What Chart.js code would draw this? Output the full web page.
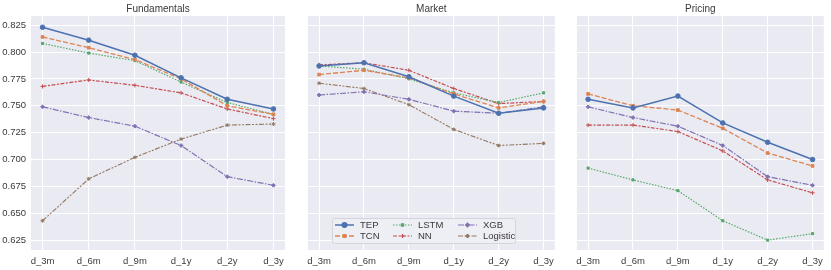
<!DOCTYPE html>
<html>
<head>
<meta charset="utf-8">
<script src="https://cdn.jsdelivr.net/npm/chart.js@4.4.1/dist/chart.umd.min.js"></script>
<style>
  html, body { margin: 0; padding: 0; background: #fff; }
  .panel { position: absolute; top: 0; height: 270px; }
</style>
</head>
<body>
<div class="panel" style="left:0px;width:290px"><canvas id="fundChart"></canvas></div>
<div class="panel" style="left:301px;width:259px"><canvas id="marketChart"></canvas></div>
<div class="panel" style="left:570px;width:259px"><canvas id="pricingChart"></canvas></div>
<script>
  // categories and ticks
  var categories = ['d_3m', 'd_6m', 'd_9m', 'd_1y', 'd_2y', 'd_3y'];
  var yTicks = [0.625, 0.650, 0.675, 0.700, 0.725, 0.750, 0.775, 0.800, 0.825];
  var models = ['TEP', 'TCN', 'LSTM', 'NN', 'XGB', 'Logistic'];

  // Fundamentals
  var fundTEP      = [0.823, 0.811, 0.797, 0.776, 0.756, 0.747];
  var fundTCN      = [0.814, 0.804, 0.793, 0.775, 0.750, 0.742];
  var fundLSTM     = [0.808, 0.799, 0.792, 0.772, 0.753, 0.742];
  var fundNN       = [0.768, 0.774, 0.769, 0.762, 0.747, 0.738];
  var fundXGB      = [0.749, 0.739, 0.731, 0.713, 0.684, 0.676];
  var fundLogistic = [0.643, 0.682, 0.702, 0.719, 0.732, 0.733];

  // Market
  var marketTEP      = [0.787, 0.790, 0.777, 0.759, 0.743, 0.748];
  var marketTCN      = [0.779, 0.783, 0.776, 0.761, 0.748, 0.754];
  var marketLSTM     = [0.787, 0.784, 0.775, 0.762, 0.753, 0.762];
  var marketNN       = [0.788, 0.790, 0.783, 0.766, 0.752, 0.754];
  var marketXGB      = [0.760, 0.763, 0.756, 0.745, 0.743, 0.749];
  var marketLogistic = [0.771, 0.766, 0.751, 0.728, 0.713, 0.715];

  // Pricing (no Logistic)
  var pricingTEP  = [0.756, 0.748, 0.759, 0.734, 0.716, 0.700];
  var pricingTCN  = [0.761, 0.750, 0.746, 0.729, 0.706, 0.694];
  var pricingLSTM = [0.692, 0.681, 0.671, 0.643, 0.625, 0.631];
  var pricingNN   = [0.732, 0.732, 0.726, 0.708, 0.681, 0.669];
  var pricingXGB  = [0.749, 0.739, 0.731, 0.713, 0.684, 0.676];

  // seaborn deep palette + styles per model
  var styles = {
    TEP:      { color: '#4C72B0', dash: [],                          point: 'circle',  r: 2.3, w: 1.5 },
    TCN:      { color: '#DD8452', dash: [5, 2],                      point: 'rect',    r: 1.9, w: 1.3 },
    LSTM:     { color: '#55A868', dash: [1.5, 1.5],                  point: 'rect',    r: 1.5, w: 1.2 },
    NN:       { color: '#C44E52', dash: [4, 1.5, 2, 1.5],            point: 'cross',   r: 2.1, w: 1.2 },
    XGB:      { color: '#8172B3', dash: [6, 1.5, 1.5, 1.5],          point: 'rectRot', r: 1.9, w: 1.2 },
    Logistic: { color: '#937860', dash: [5, 1.5, 2, 1.5, 2, 1.5],    point: 'star',    r: 1.9, w: 1.1 }
  };

  var FONT = "'Liberation Sans', Arial, sans-serif";
  var TEXT = '#3a3a3a';

  function buildDatasets(series) {
    return series.map(function(s) {
      var st = styles[s.name];
      return {
        label: s.name,
        data: s.values.map(function(v, i) { return { x: i, y: v }; }),
        borderColor: st.color,
        backgroundColor: st.color,
        borderWidth: st.w,
        borderDash: st.dash,
        pointStyle: st.point,
        pointRadius: st.r,
        pointBorderWidth: 1,
        pointBorderColor: st.color,
        pointBackgroundColor: st.color,
        tension: 0
      };
    });
  }

  // darkgrid background
  var bgPlugin = {
    id: 'bgPlugin',
    beforeDraw: function(chart) {
      var a = chart.chartArea, ctx = chart.ctx;
      ctx.save();
      ctx.fillStyle = '#EAEAF2';
      ctx.fillRect(a.left, a.top, a.right - a.left, a.bottom - a.top);
      ctx.restore();
    }
  };

  // title centred over the plot area
  var titlePlugin = {
    id: 'panelTitle',
    afterDraw: function(chart, args, opts) {
      var a = chart.chartArea, ctx = chart.ctx;
      ctx.save();
      ctx.font = '10px ' + FONT;
      ctx.fillStyle = TEXT;
      ctx.textAlign = 'center';
      ctx.textBaseline = 'middle';
      ctx.fillText(opts.text, (a.left + a.right) / 2, 9);
      ctx.restore();
    }
  };

  // 3 column legend box inside the Market panel
  var legendPlugin = {
    id: 'boxLegend',
    afterDraw: function(chart, args, opts) {
      if (!opts.show) return;
      var ctx = chart.ctx;
      var bx = 31, by = 218, bw = 183, bh = 25;
      ctx.save();
      ctx.fillStyle = 'rgba(238,238,245,0.9)';
      ctx.strokeStyle = '#D4D4DC';
      ctx.lineWidth = 1;
      ctx.beginPath();
      ctx.roundRect(bx + 0.5, by + 0.5, bw, bh, 2);
      ctx.fill();
      ctx.stroke();
      var colX = [34, 92, 157];
      var rowY = [225, 236];
      models.forEach(function(m, i) {
        var st = styles[m];
        var x0 = colX[Math.floor(i / 2)], y = rowY[i % 2];
        ctx.strokeStyle = st.color;
        ctx.lineWidth = st.w;
        ctx.setLineDash(st.dash);
        ctx.beginPath();
        ctx.moveTo(x0, y);
        ctx.lineTo(x0 + 19, y);
        ctx.stroke();
        ctx.setLineDash([]);
        ctx.fillStyle = st.color;
        Chart.helpers.drawPoint(ctx, { pointStyle: st.point, radius: st.r, borderWidth: 1, rotation: 0 }, x0 + 9.5, y);
        ctx.fillStyle = TEXT;
        ctx.font = '9.5px ' + FONT;
        ctx.textAlign = 'left';
        ctx.textBaseline = 'middle';
        ctx.fillText(m, x0 + 25, y);
      });
      ctx.restore();
    }
  };

  function makePanel(id, title, series, showY, showLegend) {
    var ctx = document.getElementById(id).getContext('2d');
    return new Chart(ctx, {
      type: 'line',
      data: { datasets: buildDatasets(series) },
      options: {
        responsive: true,
        maintainAspectRatio: false,
        animation: false,
        layout: { padding: { top: 16, right: 3, left: 0, bottom: 0 } },
        plugins: {
          legend: { display: false },
          tooltip: { enabled: false },
          panelTitle: { text: title },
          boxLegend: { show: showLegend }
        },
        scales: {
          x: {
            type: 'linear',
            min: -0.25,
            max: 5.25,
            afterBuildTicks: function(s) { s.ticks = categories.map(function(c, i) { return { value: i }; }); },
            afterFit: function(s) { s.height = 20; },
            grid: { color: '#FFFFFF', lineWidth: 1, drawTicks: false },
            border: { display: false },
            ticks: {
              padding: 6,
              color: TEXT,
              font: { family: FONT, size: 9.5 },
              maxRotation: 0,
              callback: function(v) { return categories[v]; }
            }
          },
          y: {
            min: 0.6158,
            max: 0.8335,
            afterBuildTicks: function(s) { s.ticks = yTicks.map(function(v) { return { value: v }; }); },
            afterFit: function(s) { s.width = showY ? 31 : 0; },
            grid: { color: '#FFFFFF', lineWidth: 1, drawTicks: false },
            border: { display: false },
            ticks: {
              display: showY,
              padding: 5,
              color: TEXT,
              font: { family: FONT, size: 9.5 },
              callback: function(v) { return v.toFixed(3); }
            }
          }
        }
      },
      plugins: [bgPlugin, titlePlugin, legendPlugin]
    });
  }

  makePanel('fundChart', 'Fundamentals', [
    { name: 'TEP', values: fundTEP },
    { name: 'TCN', values: fundTCN },
    { name: 'LSTM', values: fundLSTM },
    { name: 'NN', values: fundNN },
    { name: 'XGB', values: fundXGB },
    { name: 'Logistic', values: fundLogistic }
  ], true, false);

  makePanel('marketChart', 'Market', [
    { name: 'TEP', values: marketTEP },
    { name: 'TCN', values: marketTCN },
    { name: 'LSTM', values: marketLSTM },
    { name: 'NN', values: marketNN },
    { name: 'XGB', values: marketXGB },
    { name: 'Logistic', values: marketLogistic }
  ], false, true);

  makePanel('pricingChart', 'Pricing', [
    { name: 'TEP', values: pricingTEP },
    { name: 'TCN', values: pricingTCN },
    { name: 'LSTM', values: pricingLSTM },
    { name: 'NN', values: pricingNN },
    { name: 'XGB', values: pricingXGB }
  ], false, false);
</script>
</body>
</html>
